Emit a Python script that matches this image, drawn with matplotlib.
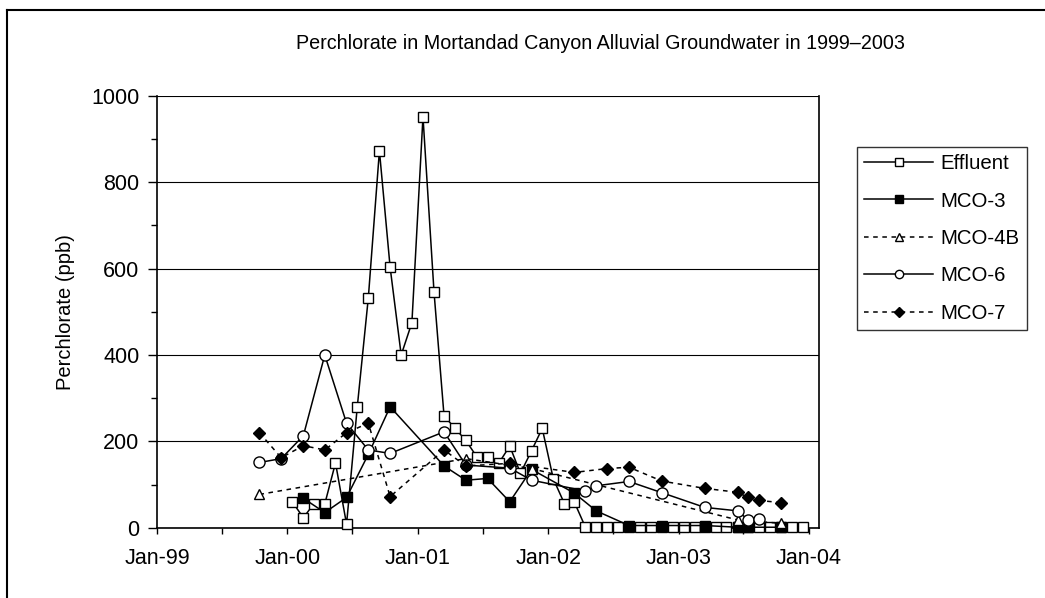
import pandas as pd
import matplotlib
matplotlib.use("Agg")
import matplotlib.pyplot as plt
import matplotlib.dates as mdates
from matplotlib.lines import Line2D
from matplotlib.ticker import MultipleLocator

# ---- data (mid-month sampling dates) ----
effluent_dates = [
    "2000-01", "2000-02", "2000-03", "2000-04", "2000-05", "2000-06",
    "2000-07", "2000-08", "2000-09", "2000-10", "2000-11", "2000-12",
    "2001-01", "2001-02", "2001-03", "2001-04", "2001-05", "2001-06",
    "2001-07", "2001-08", "2001-09", "2001-10", "2001-11", "2001-12",
    "2002-01", "2002-02", "2002-03", "2002-04", "2002-05", "2002-06",
    "2002-07", "2002-08", "2002-09", "2002-10", "2002-11", "2002-12",
    "2003-01", "2003-02", "2003-03", "2003-04", "2003-05", "2003-06",
    "2003-07", "2003-08", "2003-09", "2003-10", "2003-11", "2003-12",
]
effluent_vals = [
    60, 23, 55, 55, 150, 8, 280, 533, 873, 603, 400, 475,
    952, 545, 259, 230, 202, 164, 164, 149, 189, 126, 178, 230,
    113, 56, 59, 1, 1, 1, 1, 1, 1, 1, 1, 1,
    1, 1, 1, 1, 1, 1, 1, 1, 1, 1, 1, 1,
]

mco3_dates = ["2000-02", "2000-04", "2000-06", "2000-08", "2000-10", "2001-03",
              "2001-05", "2001-07", "2001-09", "2001-11", "2002-03", "2002-05",
              "2002-08", "2002-11", "2003-03", "2003-06", "2003-07", "2003-10"]
mco3_vals = [68, 35, 70, 170, 280, 143, 110, 114, 60, 135, 80, 39,
             5, 5, 5, 1, 1, 1]

mco4b_dates = ["1999-10", "2001-05", "2001-11", "2003-06", "2003-10"]
mco4b_vals = [77, 160, 137, 18, 10]

mco6_dates = ["1999-10", "1999-12", "2000-02", "2000-04", "2000-06", "2000-08",
              "2000-10", "2001-03", "2001-05", "2001-09", "2001-11", "2002-04",
              "2002-05", "2002-08", "2002-11", "2003-03", "2003-06", "2003-07",
              "2003-08"]
mco6_vals = [151, 160, 213, 400, 242, 180, 172, 222, 145, 138, 110, 85,
             97, 107, 81, 47, 39, 18, 19]

mco7_dates = ["1999-10", "1999-12", "2000-02", "2000-04", "2000-06", "2000-08",
              "2000-10", "2001-03", "2001-05", "2001-09", "2002-03", "2002-06",
              "2002-08", "2002-11", "2003-03", "2003-06", "2003-07", "2003-08",
              "2003-10"]
mco7_vals = [220, 162, 190, 180, 220, 242, 72, 180, 143, 149, 128, 137,
             140, 108, 91, 82, 70, 63, 58]


def to_dates(months):
    return pd.to_datetime([m + "-15" for m in months])


plt.rcParams["font.family"] = ["Liberation Sans", "DejaVu Sans"]

fig = plt.figure(figsize=(10.45, 5.98), dpi=100)
ax = fig.add_axes([0.1502, 0.1176, 0.6335, 0.7219])

series = [
    ("Effluent", effluent_dates, effluent_vals, "-", "s", "white"),
    ("MCO-3", mco3_dates, mco3_vals, "-", "s", "black"),
    ("MCO-4B", mco4b_dates, mco4b_vals, (0, (3, 3)), "^", "white"),
    ("MCO-6", mco6_dates, mco6_vals, "-", "o", "white"),
    ("MCO-7", mco7_dates, mco7_vals, (0, (3, 3)), "D", "black"),
]
msizes = {"s": 7.4, "^": 7.6, "o": 8.0, "D": 6.4}

for i, (name, d, v, ls, mk, fc) in enumerate(series):
    ax.plot(to_dates(d), v, linestyle=ls, color="black", linewidth=1.1,
            marker=mk, markersize=msizes[mk], markerfacecolor=fc,
            markeredgecolor="black", markeredgewidth=1.0, label=name,
            zorder=3 + i, clip_on=False)

ax.set_ylim(0, 1000)
ax.yaxis.set_major_locator(MultipleLocator(200))
ax.yaxis.set_minor_locator(MultipleLocator(100))
ax.grid(True, axis="y", which="major", color="black", linewidth=0.8)
ax.set_axisbelow(True)

ax.set_xlim(pd.Timestamp("1999-01-01"), pd.Timestamp("2004-01-29"))
ax.xaxis.set_major_locator(mdates.YearLocator())
ax.xaxis.set_major_formatter(mdates.DateFormatter("Jan-%y"))
ax.xaxis.set_minor_locator(mdates.MonthLocator(bymonth=7))

ax.tick_params(axis="both", which="both", direction="out", colors="black",
               labelsize=15.5)
ax.tick_params(axis="y", which="major", length=6.5, width=1.0, pad=6)
ax.tick_params(axis="y", which="minor", length=4.5, width=1.0)
ax.tick_params(axis="x", which="both", length=4.5, width=1.0, pad=10)

for side in ["left", "bottom", "right"]:
    ax.spines[side].set_linewidth(1.2)
    ax.spines[side].set_color("black")
ax.spines["top"].set_visible(False)

ax.set_ylabel("Perchlorate (ppb)", fontsize=14.5, labelpad=12)

fig.text(0.575, 0.928, "Perchlorate in Mortandad Canyon Alluvial Groundwater in 1999\u20132003",
         ha="center", va="center", fontsize=14.2)

leg = fig.legend(loc="upper left", bbox_to_anchor=(0.820, 0.754),
                 fontsize=14.7, frameon=True, fancybox=False, edgecolor="black",
                 handlelength=3.4, handletextpad=0.35, labelspacing=0.9,
                 markerscale=0.75, borderpad=0.35, borderaxespad=0)
leg.get_frame().set_linewidth(1.0)

# outer chart-area frame (only left and top edges fall inside the crop)
fig.add_artist(Line2D([0.0067, 0.0067], [0.0, 0.9833], color="black", linewidth=1.5,
                      transform=fig.transFigure))
fig.add_artist(Line2D([0.0067, 1.0], [0.9833, 0.9833], color="black", linewidth=1.5,
                      transform=fig.transFigure))

fig.savefig("out.png", dpi=100)
